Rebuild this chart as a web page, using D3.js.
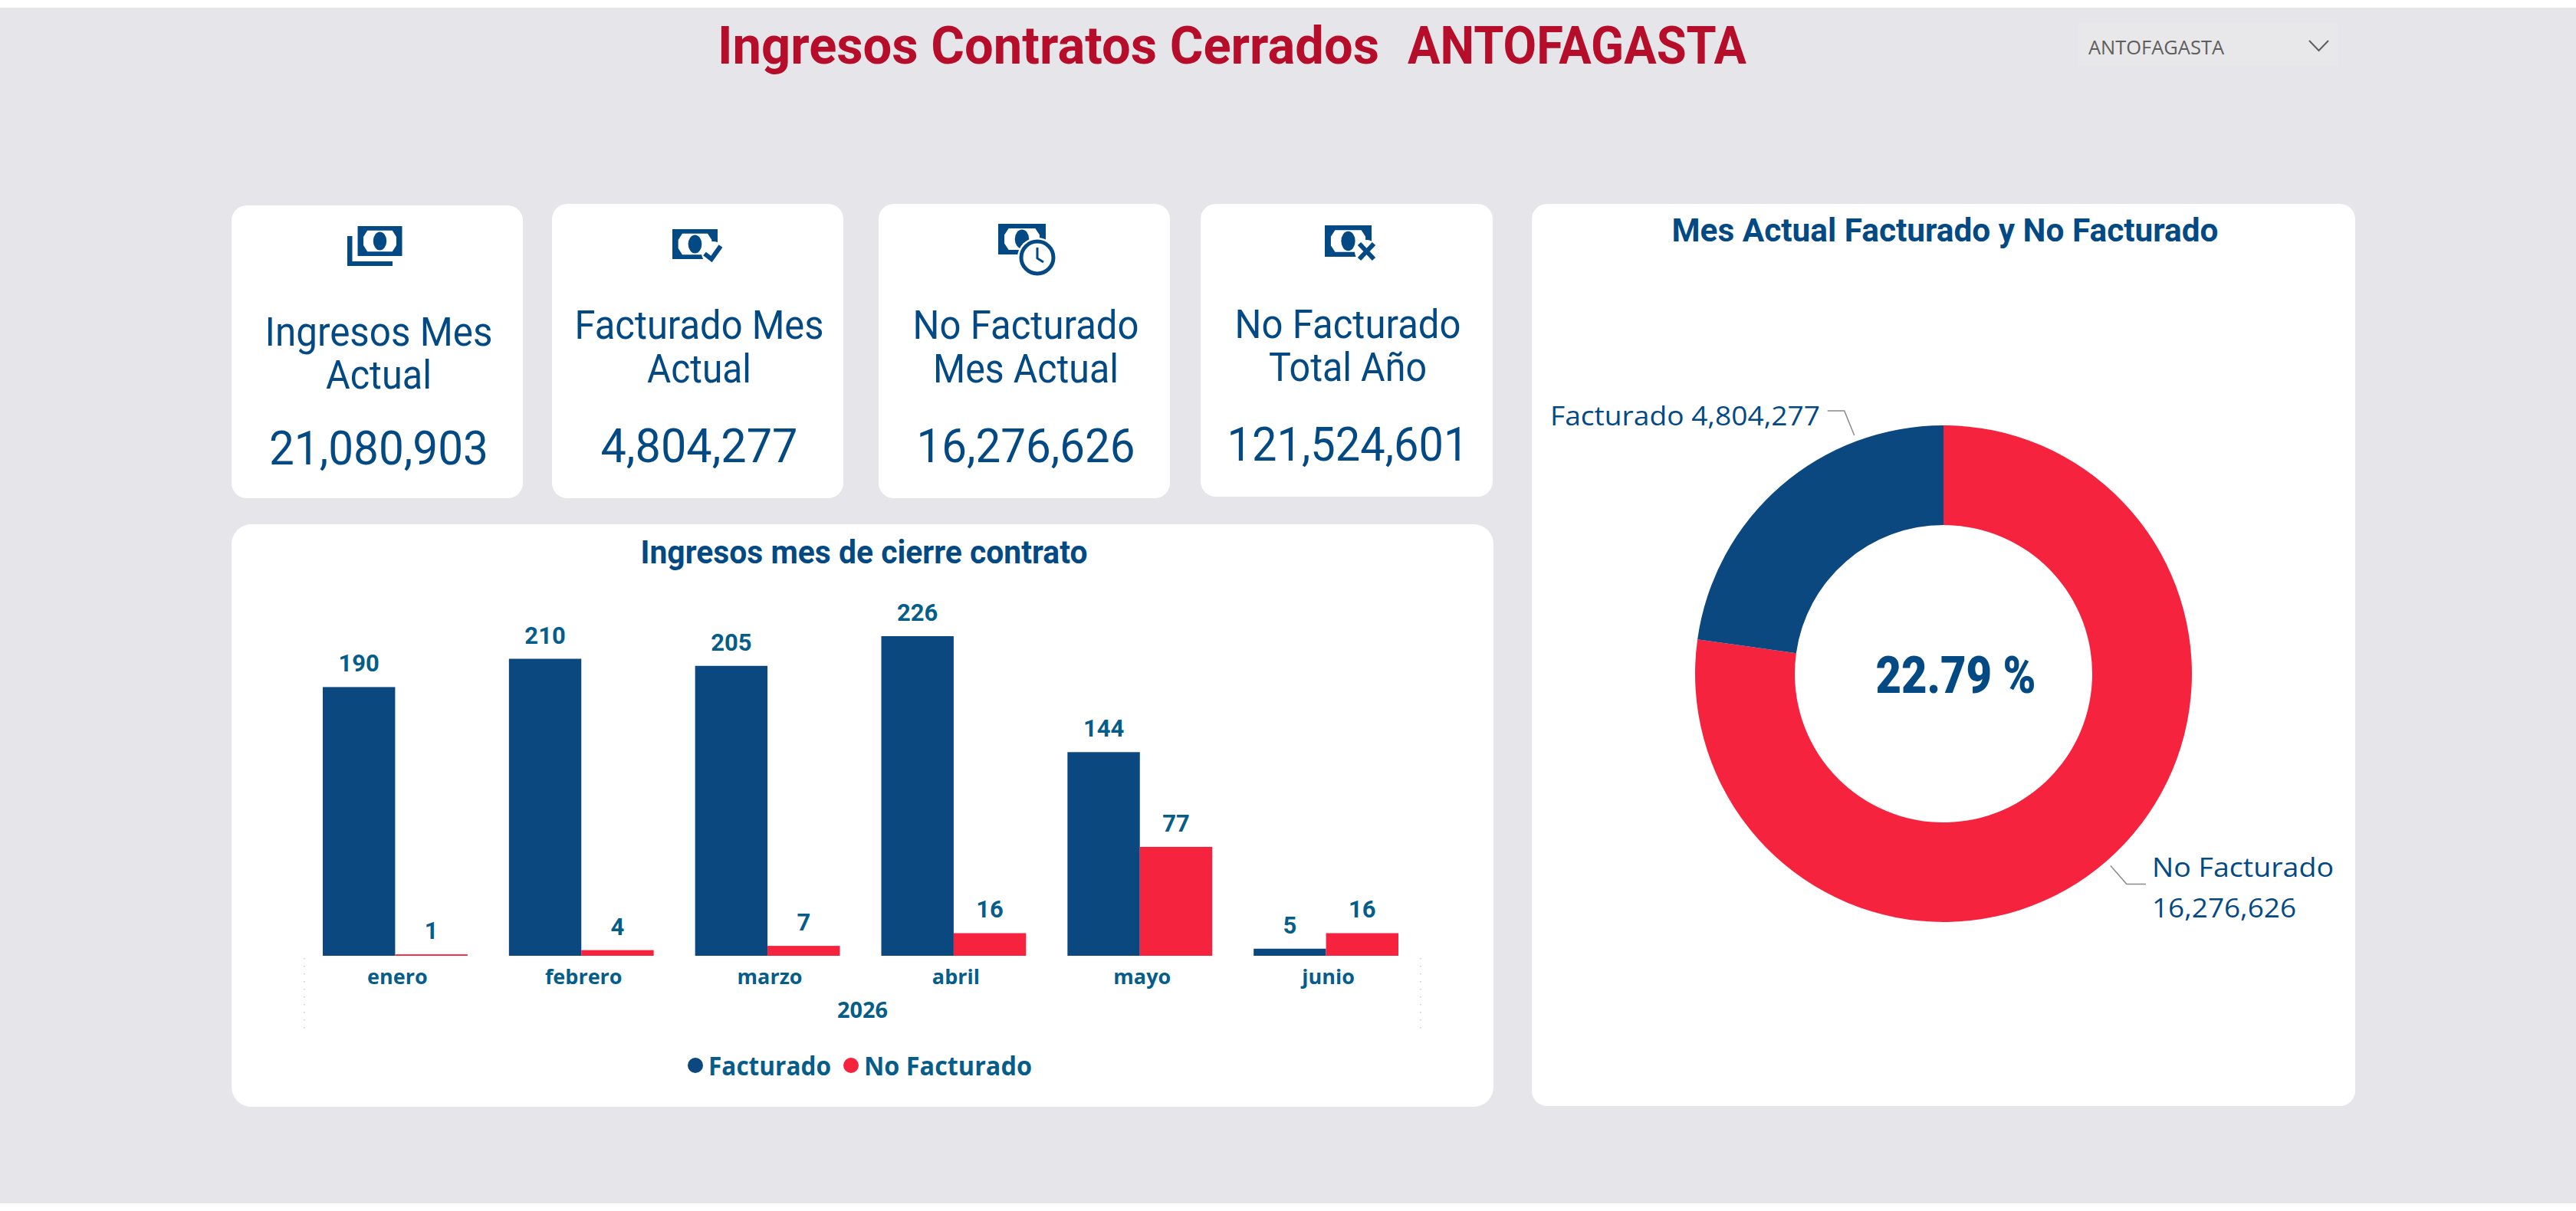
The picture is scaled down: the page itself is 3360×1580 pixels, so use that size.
<!DOCTYPE html>
<html lang="es">
<head>
<meta charset="utf-8">
<title>Ingresos Contratos Cerrados ANTOFAGASTA</title>
<script src="https://cdn.jsdelivr.net/npm/d3@7/dist/d3.min.js"></script>
<style>
  html, body { margin: 0; padding: 0; background: #fff; }
  svg { display: block; }
</style>
</head>
<body>
<svg id="report" width="3360" height="1580"></svg>
<script>
// Report data
const reportTitle = "Ingresos Contratos Cerrados";
const regionName = "ANTOFAGASTA";
const months = ["enero", "febrero", "marzo", "abril", "mayo", "junio"];
const facturado = [190, 210, 205, 226, 144, 5];
const noFacturado = [1, 4, 7, 16, 77, 16];
const seriesNames = ["Facturado", "No Facturado"];
const yearLabel = "2026";
const kpiTitles = [
  ["Ingresos Mes", "Actual"],
  ["Facturado Mes", "Actual"],
  ["No Facturado", "Mes Actual"],
  ["No Facturado", "Total Año"]
];
const kpiValues = [21080903, 4804277, 16276626, 121524601];
const donutNames = ["No Facturado", "Facturado"];
const donutValues = [16276626, 4804277];

// Palette and fonts
const NAVY = "#0b4880", RED = "#f5233e", INK = "#034a85", TEAL = "#065d8a", CRIMSON = "#b50d2a";
const DIN = "Roboto, sans-serif", UI = "'Open Sans', sans-serif";
const fmt = d3.format(",");
const svg = d3.select("#report");

// Text with its baseline position and fitted run length
function label(parent, str, x, y, size, weight, fill, fit, anchor = "middle", family = DIN) {
  const t = parent.append("text")
    .attr("x", x).attr("y", y)
    .attr("text-anchor", anchor)
    .attr("font-family", family)
    .attr("font-size", size)
    .attr("font-weight", weight)
    .attr("fill", fill)
    .text(str);
  if (fit) t.attr("textLength", fit).attr("lengthAdjust", "spacingAndGlyphs");
  return t;
}

function panel(x0, y0, x1, y1, r) {
  svg.append("rect").attr("x", x0).attr("y", y0)
    .attr("width", x1 - x0).attr("height", y1 - y0)
    .attr("rx", r).attr("ry", r).attr("fill", "#fff");
}

// Page background and header
svg.append("rect").attr("width", 3360).attr("height", 1580).attr("fill", "#fff");
svg.append("rect").attr("y", 10).attr("width", 3360).attr("height", 1560).attr("fill", "#e6e5ea");
label(svg, reportTitle, 936, 83, 68, 700, CRIMSON, 863, "start");
label(svg, regionName, 1836, 83, 68, 700, CRIMSON, 442, "start");

svg.append("rect").attr("x", 2710).attr("y", 30).attr("width", 340).attr("height", 56).attr("fill", "#e8e7ea");
label(svg, regionName, 2724, 71, 26, 400, "#605e5c", 177, "start", UI);
svg.append("path").attr("d", d3.line()([[3012, 53], [3024.5, 66], [3037, 53]]))
  .attr("fill", "none").attr("stroke", "#605e5c").attr("stroke-width", 2);

// KPI cards
const cardBoxes = [
  { x0: 302, x1: 682, y0: 268, y1: 650 },
  { x0: 720, x1: 1100, y0: 266, y1: 650 },
  { x0: 1146, x1: 1526, y0: 266, y1: 650 },
  { x0: 1566, x1: 1947, y0: 266, y1: 648 }
];
const cardText = [
  { cx: 494, base: [451, 507], fit: [297, 138], vBase: 606, vFit: 286 },
  { cx: 912, base: [442, 499], fit: [325, 136], vBase: 603, vFit: 257 },
  { cx: 1338, base: [442, 499], fit: [295, 242], vBase: 603, vFit: 285 },
  { cx: 1758, base: [441, 497], fit: [295, 206], vBase: 601, vFit: 315 }
];
cardBoxes.forEach((b, i) => {
  panel(b.x0, b.y0, b.x1, b.y1, 20);
  const c = cardText[i];
  kpiTitles[i].forEach((line, j) => label(svg, line, c.cx, c.base[j], 51, 400, INK, c.fit[j]));
  label(svg, fmt(kpiValues[i]), c.cx, c.vBase, 62, 400, INK, c.vFit);
});

// Banknote glyph shared by the card icons
function banknote(g, x, y, w, h) {
  const mx = w * 0.13, my = h * 0.15, cut = w * 0.09;
  g.append("rect").attr("x", x).attr("y", y).attr("width", w).attr("height", h).attr("fill", INK);
  g.append("path").attr("fill", "#fff").attr("d", d3.line()([
    [x + mx + cut, y + my], [x + w - mx - cut, y + my], [x + w - mx, y + h * 0.36],
    [x + w - mx, y + h * 0.64], [x + w - mx - cut, y + h - my], [x + mx + cut, y + h - my],
    [x + mx, y + h * 0.64], [x + mx, y + h * 0.36]
  ]) + "Z");
  g.append("ellipse").attr("cx", x + w / 2).attr("cy", y + h / 2)
    .attr("rx", w * 0.15).attr("ry", h * 0.31).attr("fill", INK);
}
const icons = svg.append("g");

// Stacked notes
banknote(icons, 466.5, 295, 58, 39);
icons.append("path").attr("fill", INK)
  .attr("d", "M453 308h6.5v33h52.5v6h-59z");

// Note with check mark
banknote(icons, 877, 299, 59, 39);
icons.append("circle").attr("cx", 930).attr("cy", 330).attr("r", 15).attr("fill", "#fff");
icons.append("path").attr("fill", "none").attr("stroke", INK).attr("stroke-width", 6)
  .attr("d", d3.line()([[919, 331], [928, 338], [940, 321]]));

// Note with clock
banknote(icons, 1302, 292, 62, 40);
icons.append("circle").attr("cx", 1353).attr("cy", 336).attr("r", 26).attr("fill", "#fff");
icons.append("circle").attr("cx", 1353).attr("cy", 336).attr("r", 21).attr("fill", "#fff")
  .attr("stroke", INK).attr("stroke-width", 5);
icons.append("path").attr("fill", "none").attr("stroke", INK).attr("stroke-width", 3)
  .attr("d", d3.line()([[1353, 323], [1353, 337], [1361, 342]]));

// Note with cross
banknote(icons, 1728, 294, 61, 41);
icons.append("circle").attr("cx", 1782).attr("cy", 328).attr("r", 15).attr("fill", "#fff");
icons.append("path").attr("fill", "none").attr("stroke", INK).attr("stroke-width", 6)
  .attr("d", "M1773 318L1792 338M1792 318L1773 338");

// Monthly bars
panel(302, 684, 1948, 1444, 26);
label(svg, "Ingresos mes de cierre contrato", 1127, 735, 42, 700, INK, 583);

const x0 = d3.scaleBand().domain(months).range([421, 1824]).paddingInner(0.2225).paddingOuter(0);
const x1 = d3.scaleBand().domain(seriesNames).range([0, x0.bandwidth()]);
const y = d3.scaleLinear().domain([0, 226]).range([1247, 830]);
const seriesValues = [facturado, noFacturado];
const seriesColors = d3.scaleOrdinal().domain(seriesNames).range([NAVY, RED]);

const bars = svg.append("g");
seriesNames.forEach((name, s) => {
  const rows = months.map((m, i) => ({ month: m, value: seriesValues[s][i] }));
  bars.selectAll(null).data(rows).join("rect")
    .attr("x", d => x0(d.month) + x1(name))
    .attr("y", d => y(d.value))
    .attr("width", x1.bandwidth())
    .attr("height", d => y(0) - y(d.value))
    .attr("fill", seriesColors(name));
  rows.forEach(d => {
    label(bars, String(d.value), x0(d.month) + x1(name) + x1.bandwidth() / 2,
      y(d.value) - 20, 31, 700, TEAL);
  });
});

// Month axis
const axis = svg.append("g").attr("transform", `translate(3,${y(0)})`)
  .call(d3.axisBottom(x0).tickSize(0));
axis.select(".domain").remove();
axis.selectAll("text")
  .attr("y", 37).attr("dy", 0)
  .attr("font-family", UI).attr("font-size", 27).attr("font-weight", 700).attr("fill", TEAL);

const axisEdges = [x0.range()[0] - 24, x0.range()[1] + 29];
svg.selectAll(null).data(axisEdges).join("line")
  .attr("x1", d => d).attr("x2", d => d)
  .attr("y1", y(0) + 3).attr("y2", y(0) + 95)
  .attr("stroke", "#c9c9c9").attr("stroke-width", 1.5).attr("stroke-dasharray", "1.5 8.5");
label(svg, yearLabel, 1125, 1328, 29, 700, TEAL, 66, "middle", UI);

// Legend
const legendItems = [
  { cx: 907, tx: 924, fit: 160 },
  { cx: 1110, tx: 1127, fit: 219 }
];
seriesNames.forEach((name, i) => {
  const it = legendItems[i];
  svg.append("circle").attr("cx", it.cx).attr("cy", 1390).attr("r", 10).attr("fill", seriesColors(name));
  label(svg, name, it.tx, 1403, 34, 700, TEAL, it.fit, "start", UI);
});

// Current month donut
panel(1998, 266, 3072, 1443, 20);
label(svg, "Mes Actual Facturado y No Facturado", 2537, 315, 42, 700, INK, 713);

const center = [2535, 879];
const rOuter = 324, rInner = 194;
const pie = d3.pie().sort(null)(donutValues);
const arc = d3.arc().innerRadius(rInner).outerRadius(rOuter);
const donut = svg.append("g").attr("transform", `translate(${center})`);
donut.selectAll("path").data(pie).join("path")
  .attr("d", arc)
  .attr("fill", (d, i) => seriesColors(donutNames[i]));

const share = donutValues[1] / d3.sum(donutValues) * 100;
label(svg, `${share.toFixed(2)} %`, 2551, 904, 66, 900, INK, 209);

// Slice callouts: leaders anchored just outside the ring
const rim = d3.arc().innerRadius(rOuter + 8).outerRadius(rOuter + 8);
const rimPoint = (d, t) => {
  const a = d.startAngle + (d.endAngle - d.startAngle) * t;
  const [px, py] = rim.centroid({ startAngle: a, endAngle: a });
  return [center[0] + px, center[1] + py];
};
const leader = d3.line();
const redTip = rimPoint(pie[0], 0.5);
const blueTip = rimPoint(pie[1], 0.75);
svg.append("path").attr("fill", "none").attr("stroke", "#8a8a8a").attr("stroke-width", 1.5)
  .attr("d", leader([redTip, [redTip[0] + 21, redTip[1] + 24], [redTip[0] + 46, redTip[1] + 24]]));
svg.append("path").attr("fill", "none").attr("stroke", "#8a8a8a").attr("stroke-width", 1.5)
  .attr("d", leader([blueTip, [blueTip[0] - 13, blueTip[1] - 32], [blueTip[0] - 35, blueTip[1] - 32]]));

label(svg, `${donutNames[1]} ${fmt(donutValues[1])}`, 2022, 555, 35, 400, INK, 352, "start", UI);
label(svg, donutNames[0], 2807, 1144, 35, 400, INK, 237, "start", UI);
label(svg, fmt(donutValues[0]), 2807, 1197, 35, 400, INK, 188, "start", UI);
</script>
</body>
</html>
